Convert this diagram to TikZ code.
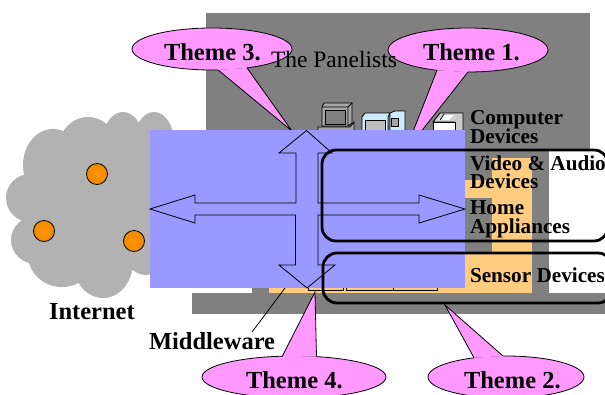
\documentclass[tikz,border=0pt]{standalone}
\usepackage{fontspec}
\setmainfont{Liberation Serif}
\tikzset{
  bubble/.style={fill=themepink,draw=black,line width=0.8pt},
  lbl/.style={anchor=base west,inner sep=0pt,outer sep=0pt,font=\fontsize{24.5}{24.5}\selectfont\bfseries},
  devlbl/.style={anchor=base west,inner sep=0pt,outer sep=0pt,font=\fontsize{21.2}{21.2}\selectfont\bfseries},
  plain/.style={anchor=base west,inner sep=0pt,outer sep=0pt,font=\fontsize{23.5}{23.5}\selectfont},
  panel/.style={draw=black,line width=2.8pt,rounded corners=14pt},
  dot/.style={circle,draw=black,line width=0.8pt,inner color=orange!85!yellow,outer color=dotorange,minimum size=21pt,inner sep=0pt},
  devline/.style={draw=black,line width=0.8pt},
}
\definecolor{themepink}{HTML}{FF99FF}
\definecolor{panelgray}{HTML}{808080}
\definecolor{cloudgray}{HTML}{B2B2B2}
\definecolor{softblue}{HTML}{9999FF}
\definecolor{softorange}{HTML}{FFCC80}
\definecolor{dotorange}{HTML}{F08C00}
\definecolor{devblue}{HTML}{CCECFF}
\begin{document}
\begin{tikzpicture}[x=1pt,y=-1pt]
\useasboundingbox (0,0) rectangle (605,394);
\clip (0,0) rectangle (605,394);
% panels
\fill[panelgray] (206,13) rectangle (590,150);
\fill[panelgray] (252,150) rectangle (549,293);
\fill[panelgray] (192,293) rectangle (605,314);
% orange layer
\fill[softorange] (492,158) rectangle (532,293);
\fill[softorange] (440,180) rectangle (492,198);
\fill[softorange] (269,252) rectangle (492,293);
% devices
\filldraw[devline,fill=gray!70] (324,103) -- (352,103) -- (352,123) -- (348,126) -- (322,126) -- (322,107) -- cycle;
\draw[devline] (322,107) -- (348,107) -- (348,126) (348,107) -- (352,103);
\filldraw[devline,fill=panelgray] (325,110) rectangle (345,124);
\filldraw[devline,fill=gray!70] (318,127) -- (350,127) -- (354,122) -- (354,135) -- (318,135) -- cycle;
\filldraw[devline,fill=devblue] (362,117) -- (365,113) -- (390,113) -- (388,117) -- (388,135) -- (362,135) -- cycle;
\filldraw[devline,fill=panelgray!50] (365,120) rectangle (385,135);
\filldraw[devline,fill=devblue] (390,113) -- (395,111) -- (405,111) -- (405,135) -- (390,135) -- cycle;
\filldraw[devline,fill=gray!70] (391,118) rectangle (398,126);
\filldraw[devline,fill=gray!40] (440,113) -- (463,113) -- (463,135) -- (455,135) -- (455,122) -- (433,122) -- cycle;
\filldraw[devline,fill=white] (433,122) rectangle (455,135);
\fill[white] (443,115) -- (454,115) -- (449,120) -- (438,120) -- cycle;
\draw[devline] (440,120) -- (444,114);
% small boxes at the foot of the middleware
\draw[devline] (308,285) rectangle (343,290.5);
\draw[devline] (346,285) rectangle (393,290.5);
\draw[devline] (393,285) rectangle (437,290.5);
% cloud
\fill[cloudgray]
  (53,165) ellipse [x radius=30,y radius=36]
  (88,150) ellipse [x radius=30,y radius=33]
  (123,140) ellipse [x radius=20,y radius=28]
  (154,142) ellipse [x radius=20,y radius=30]
  (30,198) ellipse [x radius=24,y radius=24]
  (36,240) ellipse [x radius=25,y radius=24]
  (62,255) ellipse [x radius=34,y radius=32]
  (103,262) ellipse [x radius=30,y radius=36]
  (146,250) ellipse [x radius=22,y radius=25]
  (90,200) ellipse [x radius=70,y radius=65];
\node[dot] (d1) at (97,174) {};
\node[dot] (d2) at (44,231) {};
\node[dot] (d3) at (134,241) {};
% callouts
\draw[bubble] (212,49) ellipse [x radius=80,y radius=21];
\filldraw[bubble] (218,69.9) -- (292,131) -- (247,67.9);
\fill[themepink] (218,69.9) -- (247,67.9) -- (240,60) -- (225,60) -- cycle;
\draw[bubble] (468,50) ellipse [x radius=80,y radius=22];
\filldraw[bubble] (437,70.3) -- (405,152) -- (468,72);
\fill[themepink] (437,70.3) -- (468,72) -- (460,62) -- (445,62) -- cycle;
\draw[bubble] (294,377) ellipse [x radius=92,y radius=21];
\filldraw[bubble] (282,356.8) -- (315,292) -- (316.5,356.7);
\fill[themepink] (282,356.8) -- (316.5,356.7) -- (310,365) -- (290,365) -- cycle;
\draw[bubble] (506,377) ellipse [x radius=78,y radius=21];
\filldraw[bubble] (474,357.8) -- (445,305) -- (503,356);
\fill[themepink] (474,357.8) -- (503,356) -- (498,365) -- (480,365) -- cycle;
% middleware
\coordinate (mwtop) at (285,288);
\coordinate (mwend) at (252,332);
\draw[devline] (mwtop) -- (mwend);
% blue layer with four-way arrow
\fill[softblue] (150,130) rectangle (465,288);
\draw[devline,line join=miter]
  (150,209) -- (195,195) -- (195,203) -- (296,203) -- (296,153) -- (279,153)
  -- (306.5,130.5) -- (332,153) -- (318,153) -- (318,203) -- (419,203) -- (419,195)
  -- (465,209) -- (419,223) -- (419,215) -- (318,215) -- (318,265) -- (335,265)
  -- (307,288) -- (279,265) -- (295.5,265) -- (295.5,215) -- (195,215) -- (195,223) -- cycle;
% texts
\node[plain] (panelists) at (271,67) {The Panelists};
\node[lbl] (t3) at (164,60) {Theme 3.};
\node[lbl] (t1) at (423,60) {Theme 1.};
\node[lbl] (t4) at (246,388) {Theme 4.};
\node[lbl] (t2) at (464,388) {Theme 2.};
\node[devlbl] (c1) at (470,124) {Computer};
\node[devlbl] (c2) at (470,143) {Devices};
\node[devlbl] (v1) at (470,170) {Video \& Audio};
\node[devlbl] (v2) at (470,188) {Devices};
\node[devlbl] (h1) at (470,214) {Home};
\node[devlbl] (h2) at (470,233) {Appliances};
\node[devlbl] (s1) at (470,282) {Sensor Devices};
\node[lbl] (inet) at (49,319) {Internet};
\node[lbl] (mw) at (149,349) {Middleware};
% rounded panels
\draw[panel] (322,150) rectangle (608,241);
\draw[panel] (323,253) rectangle (612,303);
\end{tikzpicture}
\end{document}
